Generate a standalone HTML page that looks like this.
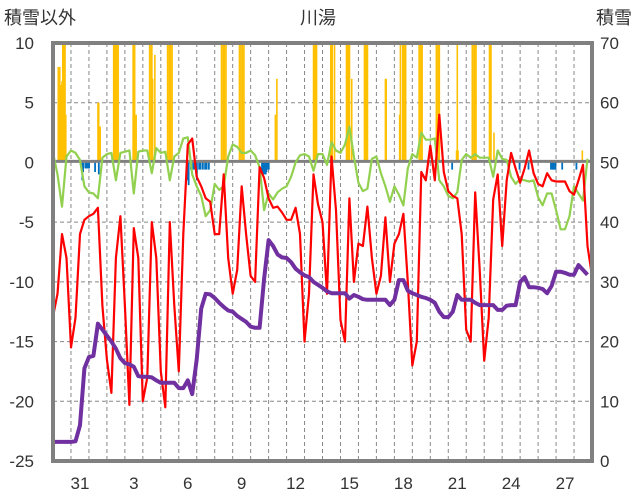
<!DOCTYPE html>
<html><head><meta charset="utf-8">
<style>
html,body{margin:0;padding:0;background:#fff;}
svg{display:block;font-family:"Liberation Sans","Noto Sans CJK JP",sans-serif;}
</style></head>
<body>
<svg id="chart" width="636" height="501" viewBox="0 0 636 501" xmlns="http://www.w3.org/2000/svg">
<defs><clipPath id="plotclip"><rect x="53" y="43" width="539" height="418"/></clipPath></defs>
<text x="4" y="24" font-size="18" fill="#333">積雪以外</text>
<text x="318" y="24" font-size="18" fill="#333" text-anchor="middle">川湯</text>
<text x="632" y="24" font-size="18" fill="#333" text-anchor="end">積雪</text>
<g id="grid"></g>
<g id="bars" clip-path="url(#plotclip)"></g>
<line x1="53" x2="592" y1="161.4" y2="161.4" stroke="#808080" stroke-width="3"/>
<g id="lines" clip-path="url(#plotclip)"></g>
<rect x="53" y="43" width="539" height="418" fill="none" stroke="#808080" stroke-width="4"/>
<g id="axes"></g>
</svg>
<script>
const dayLabels = ["31","3","6","9","12","15","18","21","24","27"];
const dayLabelIdx = [1,4,7,10,13,16,19,22,25,28];
const leftTicks = [10,5,0,-5,-10,-15,-20,-25];
const rightTicks = [70,60,50,40,30,20,10,0];
const tempSeries = [-12.9,-11,-6,-8,-15.5,-13,-6,-4.8,-4.5,-4.3,-3.8,-12,-16.5,-19.3,-8,-4.5,-12,-20.3,-5.5,-8,-20,-18,-5,-8,-17.5,-20.5,-5,-12,-17.5,-6,1.5,2,-1.2,-2,-3,-3.3,-6,-6,-1,-8,-11,-9,-2,-6,-9.5,-10,-0.4,-1.3,-3,-3.8,-3.7,-4.2,-4.8,-4.8,-3.8,-6,-15,-11,-1,-3.5,-5,-11,0.5,-4,-13.2,-15,-3,-10,-6.8,-7,-3.7,-8,-11,-9.5,-4.6,-10,-6.8,-6,-4.3,-10,-17,-15,-0.8,-1.5,1.4,-1.5,4,-0.8,-2.4,-2.8,-3,-6,-14,-15,-2.5,-9,-16.6,-13,-3.1,-1,-7,-1.5,0.8,-0.5,-1.7,-0.5,1,-0.9,-1.8,-2,-0.9,-1.5,-1.6,-1.6,-1.6,-2.4,-2.7,-1.5,-0.2,-7,-9.5];
const windSeries = [0.8,-1,-3.7,0.5,1,0.8,0.2,-2,-2.5,-2.6,-3,0.4,0.7,0.8,-1.5,0.8,0.9,1,-2.6,0.9,1,1,-0.9,1.2,0.8,0.9,-1.5,0.5,0.8,2,2.1,-1,-2,-2.8,-4.5,-4,-1.8,-2.3,-2,0.5,1.5,1.3,0.8,0.8,1,0.6,-0.4,-4,-2.6,-3.1,-2.5,-2.2,-2,-1.2,0,0.6,0.7,0.5,-0.7,0.7,0.7,-0.2,1.7,1,0.8,1.5,3,0.5,-1.7,-2.4,-2.2,0.3,0.5,-0.9,-2,-3.3,-2,-2.7,-3.6,-0.5,0.7,0.4,2.5,1.9,1.9,2,-1.5,-2,-2.8,-3,-2.5,0.2,0.7,0.4,0.7,0.4,0.4,0.4,-1.2,1,0.3,0.2,-1.2,-1.8,-1.4,-1.5,-1.6,-1.5,-2.9,-3.6,-2.6,-2.6,-4,-5.6,-5.6,-4.5,-2,-2.6,-3.2,0.3];
const snowDepth = [3.2,3.2,3.2,3.2,3.2,3.3,6,15.5,17.4,17.6,23,22,21,20,18.8,17.2,16.4,16.2,15.8,14.2,14.1,14.1,14,13.5,13.1,13.1,13.1,13.1,12.2,12.2,13.5,11.2,17,25.5,28,27.9,27.3,26.5,25.8,25.2,25,24.3,23.8,23.3,22.5,22.3,22.3,30.5,37,36,34.6,34.1,34,33.3,32.2,31.6,31.1,30.8,30,29.5,29,28.4,28.1,28.1,28.1,28.1,27.2,27.8,27.5,27.1,27,27,27,27,27,26.1,27,30.3,30.3,28.5,28.1,27.8,27.5,27.3,27,26.5,25,24.1,24.1,25,27.8,27,27,27,26.5,26.1,26.1,26.1,26.1,25.3,25.3,26,26.1,26.1,30,30.8,29.1,29.1,29,28.8,28.1,29.3,31.7,31.7,31.5,31.2,31.2,32.8,32,31.2];
const precipHours = [7,9,11,12,13,15,16,17,60,61,63,81,83,84,85,87,107,108,109,111,129,131,132,133,136,153,155,156,157,159,225,227,228,229,231,249,251,253,255,297,299,348,349,351,352,371,372,373,376,392,393,395,396,399,416,417,419,420,444,445,463,464,467,468,469,471,489,491,492,493,512,513,515,516,539,540,541,560,561,563,564,565,583,584,585,589,707];
const precipValues = [8,8,6.5,6.8,10,10,10,4,5,5,3,10,10,10,10,10,10,10,10,4,10,10,10,7,9,10,10,10,10,10,10,10,10,10,10,10,10,10,10,4,7,10,10,10,10,10,10,10,10,10,10,10,10,7,10,10,10,10,7,7,4,10,10,10,10,10,10,10,10,10,10,10,10,10,1,10,1,10,10,10,10,10,10,10,10,2.5,1];
const meltHours = [39,40,43,44,45,47,48,56,61,179,180,181,184,187,189,192,195,197,200,203,205,208,279,280,281,283,284,285,287,288,533,623,635,665,667,668,669,671,680,699];
const meltValues = [-1.5,-0.8,-0.5,-0.5,-0.5,-0.5,-0.5,-0.8,-1,-1.5,-1,-1.9,-0.6,-0.6,-0.6,-1.5,-0.6,-0.6,-0.6,-0.6,-0.6,-0.6,-0.6,-0.8,-1,-1,-1,-0.8,-0.6,-0.6,-0.6,-0.6,-0.6,-0.6,-0.6,-0.6,-0.6,-0.6,-0.6,-0.6];

const NS="http://www.w3.org/2000/svg";
const X0=53,X1=592,Y0=43,Y1=461,DAYS=30;
const xDay=d=>X0+(X1-X0)*d/DAYS;
const yL=v=>Y0+(10-v)*(Y1-Y0)/35;
const yR=v=>Y1-v*(Y1-Y0)/70;
const xIdx=i=>xDay(i/4);
const xHour=h=>xDay(h/24);
function mk(tag,attrs,parent){const e=document.createElementNS(NS,tag);for(const k in attrs)e.setAttribute(k,attrs[k]);parent.appendChild(e);return e;}

const grid=document.getElementById('grid');
for(let d=1;d<DAYS;d++){
  const l=mk('line',{x1:xDay(d),x2:xDay(d),y1:Y0,y2:Y1,stroke:'#888','stroke-width':1,'stroke-dasharray':'4,3'},grid);
  
  
}
leftTicks.forEach(v=>{ if(v===10||v===-25||v===0) return;
  const l=mk('line',{x1:X0,x2:X1,y1:yL(v),y2:yL(v),stroke:'#888','stroke-width':1,'stroke-dasharray':'4,3'},grid);
  
  
});

const bars=document.getElementById('bars');
precipHours.forEach((h,i)=>{
  const y=yL(precipValues[i]);
  const r=mk('rect',{x:xHour(h)-0.75,y:y,width:1.6,height:yL(0)-y,fill:'#FFC000'},bars);
  
  
});
meltHours.forEach((h,i)=>{
  const y=yL(meltValues[i]);
  const r=mk('rect',{x:xHour(h)-0.75,y:yL(0),width:1.8,height:y-yL(0),fill:'#0070C0'},bars);
  
  
});

const lines=document.getElementById('lines');
function poly(arr,yf,color,w,name){
  const pts=arr.map((v,i)=>xIdx(i).toFixed(1)+','+yf(v).toFixed(1)).join(' ');
  const p=mk('polyline',{points:pts,fill:'none',stroke:color,'stroke-width':w,'stroke-linejoin':'round'},lines);
  
  
}
poly(windSeries,yL,'#92D050',2.2,'green-series-line');
poly(tempSeries,yL,'#FF0000',2.2,'temperature-line');
poly(snowDepth,yR,'#7030A0',4,'snow-depth-line');

const axes=document.getElementById('axes');
leftTicks.forEach(v=>{
  const t=mk('text',{x:34,y:yL(v)+6,'font-size':17,'text-anchor':'end',fill:'#333'},axes);
  t.textContent=v;
  
  
});
rightTicks.forEach(v=>{
  const t=mk('text',{x:600,y:yR(v)+6,'font-size':17,fill:'#333'},axes);
  t.textContent=v;
  
  
});
dayLabels.forEach((s,i)=>{
  const t=mk('text',{x:xDay(dayLabelIdx[i]+0.5),y:489,'font-size':17,'text-anchor':'middle',fill:'#333'},axes);
  t.textContent=s;
  
  
});
</script>
</body></html>
